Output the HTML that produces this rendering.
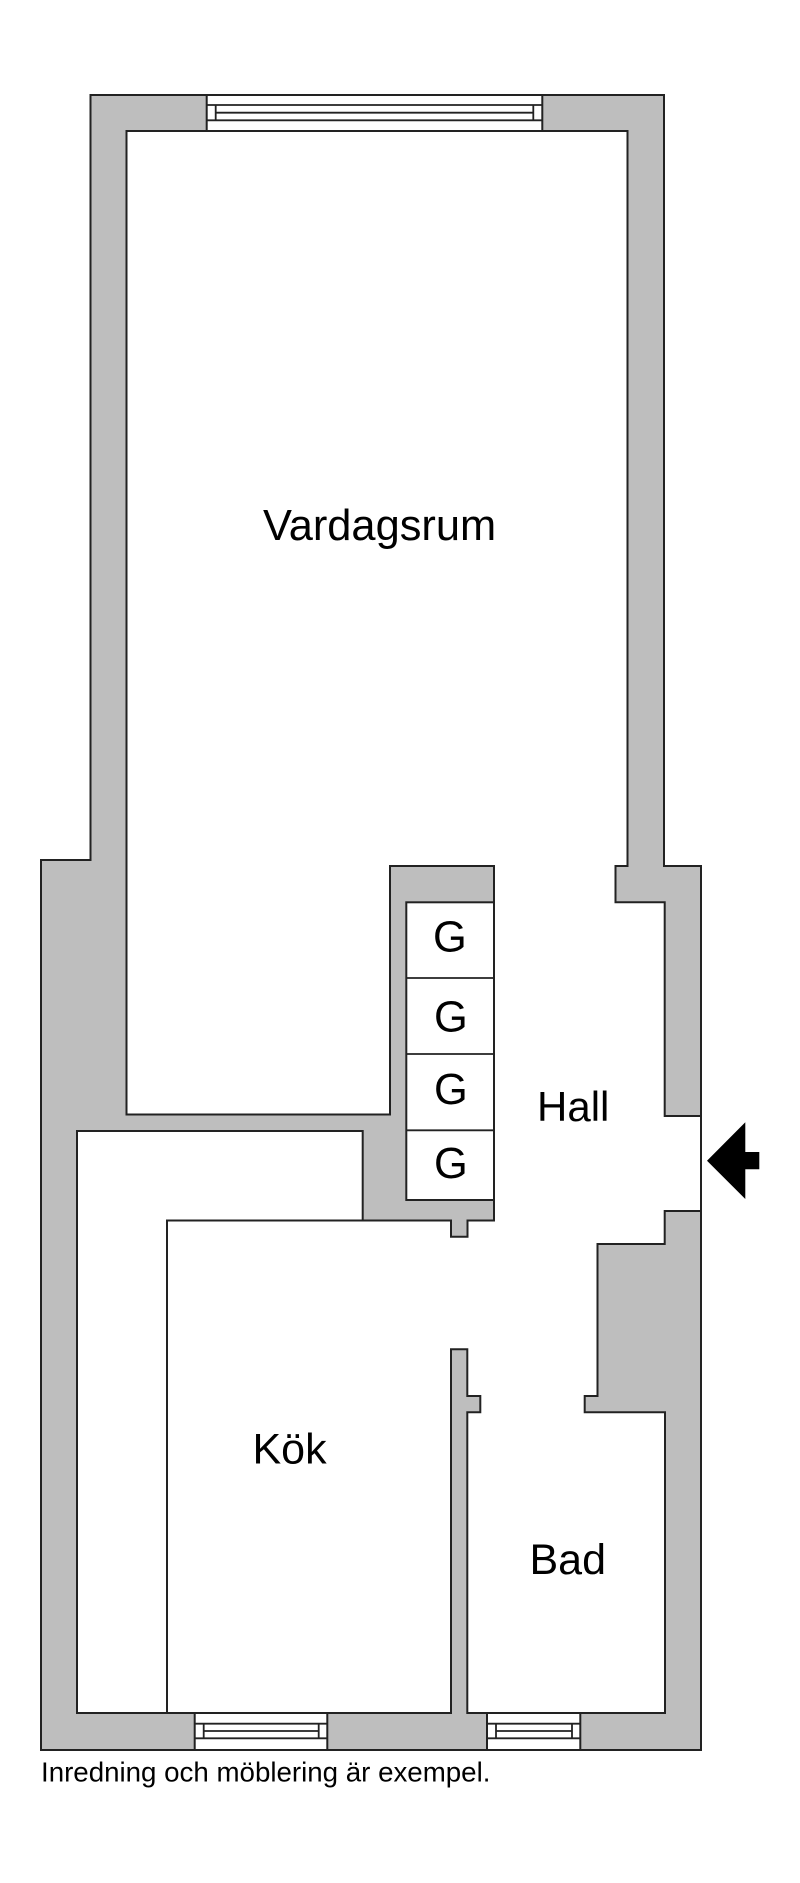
<!DOCTYPE html>
<html lang="sv">
<head>
<meta charset="utf-8">
<title>Planritning</title>
<style>
html,body{margin:0;padding:0;background:#fff;width:800px;height:1883px;overflow:hidden}
svg{display:block}
text{font-family:"Liberation Sans",Arial,sans-serif;fill:#000}
.l{font-size:43.4px}
.w{fill:#fff;stroke:#222;stroke-width:2;stroke-linejoin:miter}
.t{stroke:#222;stroke-width:1.8;fill:none}
</style>
</head>
<body>
<svg width="800" height="1883" viewBox="0 0 800 1883" xmlns="http://www.w3.org/2000/svg">
<rect width="800" height="1883" fill="#fff"/>
<polygon points="90.5,95 664,95 664,866 701,866 701,1750 41,1750 41,860 90.5,860" fill="#bebebe" stroke="#222" stroke-width="2"/>
<polygon class="w" points="126.5,131 627.5,131 627.5,866 615.5,866 615.5,902.3 664.7,902.3 664.7,1116 701,1116 701,1211 664.7,1211 664.7,1244 597.5,1244 597.5,1396 584.7,1396 584.7,1412.3 665,1412.3 665,1713 467.3,1713 467.3,1412.3 480.3,1412.3 480.3,1396 467.3,1396 467.3,1349.3 451,1349.3 451,1713 167,1713 167,1220.5 451,1220.5 451,1236.7 467.5,1236.7 467.5,1220.5 494,1220.5 494,866 390,866 390,1114.5 126.5,1114.5"/>
<polygon class="w" points="77,1131 362.7,1131 362.7,1220.5 167,1220.5 167,1713 77,1713"/>
<rect class="w" x="406.3" y="902.3" width="87.7" height="297.7"/>
<path class="t" d="M406.3 978H494M406.3 1054H494M406.3 1130.3H494"/>
<rect class="w" x="206.7" y="95" width="335.6" height="36"/>
<path class="t" d="M206.7 105H542.3M206.7 120.3H542.3M215.7 112.7H533.3M215.7 105V120.3M533.3 105V120.3"/>
<rect class="w" x="194.7" y="1713" width="132.6" height="37"/>
<path class="t" d="M194.7 1723.7H327.3M194.7 1738.3H327.3M203.7 1731H318.7M203.7 1723.7V1738.3M318.7 1723.7V1738.3"/>
<rect class="w" x="487" y="1713" width="93.3" height="37"/>
<path class="t" d="M487 1723.7H580.3M487 1738.3H580.3M496 1731H572M496 1723.7V1738.3M572 1723.7V1738.3"/>
<polygon points="707,1160.7 745.3,1122.3 745.3,1152 759.3,1152 759.3,1169.3 745.3,1169.3 745.3,1199" fill="#000"/>
<text class="l" x="263" y="540">Vardagsrum</text>
<text class="l" x="433" y="951.7">G</text>
<text class="l" x="434" y="1031.7">G</text>
<text class="l" x="434" y="1104">G</text>
<text class="l" x="434" y="1178">G</text>
<text x="537" y="1121" font-size="42">Hall</text>
<text x="252.5" y="1463.3" font-size="43">Kök</text>
<text x="529.5" y="1574" font-size="43">Bad</text>
<text x="41" y="1781.7" font-size="27.7">Inredning och möblering är exempel.</text>
</svg>
</body>
</html>
